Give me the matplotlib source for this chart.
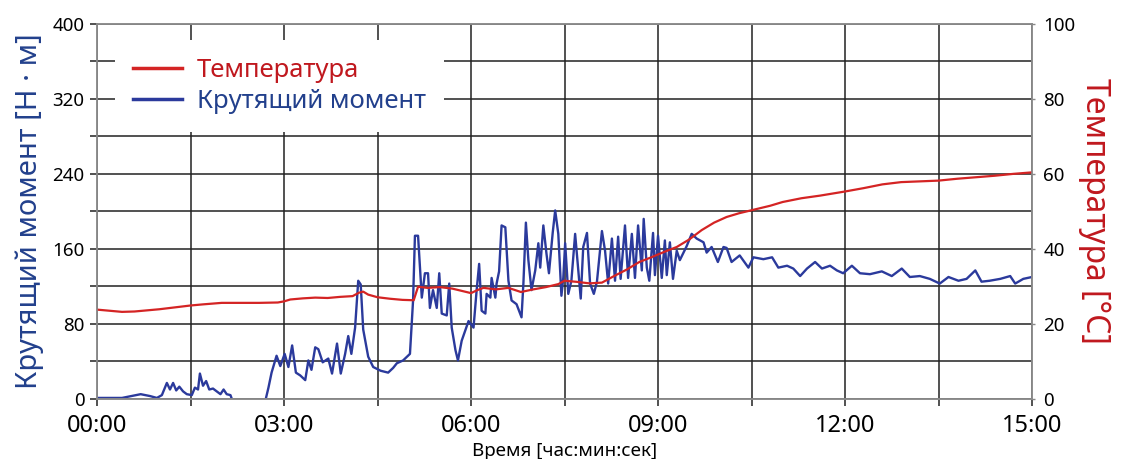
import matplotlib.pyplot as plt
from matplotlib.ticker import FixedLocator

plt.rcParams['font.family'] = ['Noto Sans', 'DejaVu Sans']

# время в минутах, температура в °C
time_temp = [0.0, 0.2, 0.4, 0.6, 0.8, 1.0, 1.2, 1.5, 1.7, 2.0, 2.3, 2.6, 2.9, 3.0,
             3.1, 3.3, 3.5, 3.7, 3.9, 4.1, 4.2, 4.27, 4.35, 4.5, 4.7, 4.9, 5.08,
             5.15, 5.3, 5.5, 5.7, 5.9, 6.0, 6.1, 6.2, 6.4, 6.6, 6.8, 7.0, 7.2, 7.4,
             7.5, 7.7, 7.9, 8.1, 8.3, 8.5, 8.7, 8.9, 9.1, 9.3, 9.5, 9.7, 9.9, 10.1,
             10.3, 10.5, 10.8, 11.0, 11.3, 11.6, 12.0, 12.3, 12.6, 12.9, 13.2, 13.5,
             13.8, 14.1, 14.4, 14.7, 15.0]
temperature = [23.8, 23.5, 23.2, 23.3, 23.6, 23.9, 24.3, 24.9, 25.2, 25.6, 25.6, 25.6,
               25.7, 26.0, 26.5, 26.8, 27.0, 26.9, 27.2, 27.4, 28.3, 28.6, 27.8, 27.1,
               26.7, 26.4, 26.3, 29.9, 29.6, 29.8, 29.4, 28.6, 28.2, 29.0, 29.6, 29.2,
               29.6, 28.5, 29.2, 29.8, 30.6, 31.5, 31.2, 30.8, 31.0, 32.8, 34.5, 36.5,
               37.8, 39.2, 40.5, 42.5, 45.0, 47.0, 48.5, 49.5, 50.3, 51.5, 52.5, 53.5,
               54.2, 55.3, 56.2, 57.2, 57.8, 58.0, 58.2, 58.7, 59.1, 59.5, 60.0, 60.4]

# время в минутах, крутящий момент в Н·м
time_torque = [0.0, 0.2, 0.4, 0.55, 0.7, 0.85, 0.96, 1.04, 1.12, 1.17, 1.22, 1.27, 1.32,
               1.38, 1.44, 1.52, 1.57, 1.62, 1.65, 1.7, 1.75, 1.8, 1.86, 1.92, 1.98,
               2.03, 2.08, 2.14, 2.19, 2.3, 2.6, 2.7, 2.75, 2.8, 2.88, 2.94, 3.01, 3.07,
               3.13, 3.19, 3.26, 3.34, 3.39, 3.44, 3.5, 3.55, 3.62, 3.71, 3.77, 3.85,
               3.91, 3.98, 4.03, 4.08, 4.14, 4.19, 4.23, 4.27, 4.35, 4.43, 4.55, 4.67,
               4.75, 4.81, 4.91, 5.02, 5.07, 5.1, 5.15, 5.21, 5.26, 5.31, 5.34, 5.39,
               5.45, 5.49, 5.53, 5.61, 5.65, 5.69, 5.75, 5.79, 5.85, 5.96, 6.04, 6.09,
               6.13, 6.17, 6.23, 6.25, 6.31, 6.33, 6.39, 6.41, 6.45, 6.49, 6.55, 6.6,
               6.65, 6.73, 6.81, 6.84, 6.88, 6.92, 6.97, 7.03, 7.08, 7.11, 7.16, 7.21,
               7.25, 7.31, 7.35, 7.4, 7.45, 7.48, 7.51, 7.56, 7.61, 7.67, 7.72, 7.76,
               7.8, 7.86, 7.91, 7.97, 8.02, 8.1, 8.15, 8.2, 8.26, 8.31, 8.36, 8.4, 8.47,
               8.52, 8.58, 8.63, 8.68, 8.74, 8.77, 8.82, 8.86, 8.92, 8.95, 9.0, 9.06,
               9.11, 9.14, 9.19, 9.24, 9.3, 9.35, 9.46, 9.54, 9.62, 9.73, 9.78, 9.86,
               9.96, 10.05, 10.1, 10.18, 10.31, 10.45, 10.53, 10.69, 10.83, 10.93, 11.07,
               11.17, 11.28, 11.39, 11.52, 11.63, 11.76, 11.87, 11.97, 12.11, 12.24,
               12.4, 12.59, 12.75, 12.91, 13.04, 13.2, 13.36, 13.52, 13.66, 13.82, 13.95,
               14.09, 14.19, 14.32, 14.49, 14.65, 14.73, 14.86, 15.0]
torque = [1, 1, 1, 3, 5, 3, 1, 4, 17, 10, 17, 9, 13, 8, 5, 4, 12, 10, 27, 14, 19, 10,
          11, 8, 5, 10, 5, 4, -5, -30, -30, -2, 12, 28, 46, 35, 48, 34, 57, 28, 25, 20,
          41, 31, 55, 53, 39, 43, 27, 59, 27, 48, 67, 48, 76, 126, 122, 74, 45, 34, 30,
          28, 33, 38, 41, 48, 105, 174, 174, 108, 134, 134, 97, 116, 97, 134, 91, 89,
          123, 76, 52, 41, 62, 83, 76, 116, 144, 94, 91, 112, 108, 129, 108, 123, 136,
          185, 183, 126, 105, 101, 87, 123, 188, 148, 116, 137, 166, 140, 185, 155, 134,
          177, 201, 176, 110, 129, 166, 112, 126, 176, 137, 107, 162, 177, 123, 112,
          125, 179, 158, 123, 171, 126, 173, 128, 185, 129, 176, 129, 185, 137, 192,
          140, 126, 177, 132, 174, 129, 169, 132, 167, 128, 158, 148, 163, 176, 171,
          167, 156, 162, 146, 162, 161, 146, 153, 140, 151, 149, 151, 140, 142, 139,
          131, 139, 146, 139, 142, 137, 134, 142, 134, 133, 136, 131, 139, 130, 131,
          128, 123, 130, 126, 128, 137, 125, 126, 128, 131, 123, 128, 130]

x_ticks = [0, 1.5, 3, 4.5, 6, 7.5, 9, 10.5, 12, 13.5, 15]
x_labels = ['00:00', '', '03:00', '', '06:00', '', '09:00', '', '12:00', '', '15:00']
y_ticks = list(range(0, 401, 40))
y_labels = [str(v) if v % 80 == 0 else '' for v in y_ticks]
t_ticks = list(range(0, 101, 20))

blue = '#2b3a9c'
red = '#d42424'
blue_txt = '#22408c'
red_txt = '#c0181e'

fig = plt.figure(figsize=(11.22, 4.59), dpi=100)
ax = fig.add_axes([0.0865, 0.131, 0.8333, 0.817])
ax2 = ax.twinx()

l1, = ax.plot(time_torque, torque, color=blue, lw=1.7)
l2, = ax2.plot(time_temp, temperature, color=red, lw=1.6)

ax.set_xlim(0, 15)
ax.set_ylim(0, 400)
ax2.set_ylim(0, 100)

ax.xaxis.set_major_locator(FixedLocator(x_ticks))
ax.set_xticklabels(x_labels, fontsize=17)
ax.yaxis.set_major_locator(FixedLocator(y_ticks))
ax.set_yticklabels(y_labels, fontsize=13.5)
ax2.yaxis.set_major_locator(FixedLocator(t_ticks))
ax2.set_yticklabels([str(v) for v in t_ticks], fontsize=13.5)

ax.grid(True, color='#222222', lw=1.1)
ax.tick_params(axis='x', length=5, width=1.1, color='#222222', pad=6)
ax.tick_params(axis='y', length=5, width=1.1, color='#222222', pad=4)
ax2.tick_params(axis='y', length=2, width=1, color='#888888', pad=6)

for a in (ax, ax2):
    for s in a.spines.values():
        s.set_color('#8a8a8a')
        s.set_linewidth(1.1)

ax.set_xlabel('Время [час:мин:сек]', fontsize=13.5, labelpad=3)
ax.set_ylabel('Крутящий момент [Н · м]', fontsize=21, color=blue_txt, labelpad=6)
ax2.set_ylabel('Температура [°C]', fontsize=23, color=red_txt, rotation=270,
               va='bottom', labelpad=2)

leg = ax2.legend([l2, l1], ['Температура', 'Крутящий момент'], loc='upper left',
                 bbox_to_anchor=(0.019, 0.957), borderaxespad=0, fontsize=18.5,
                 handlelength=1.9, handletextpad=0.6, labelspacing=0.22,
                 borderpad=0.7, frameon=True, fancybox=False, framealpha=1,
                 edgecolor='none', facecolor='white')
for h in leg.get_lines():
    h.set_linewidth(2.5)
leg.get_texts()[0].set_color(red_txt)
leg.get_texts()[1].set_color(blue_txt)

fig.savefig('out.png', dpi=100)
